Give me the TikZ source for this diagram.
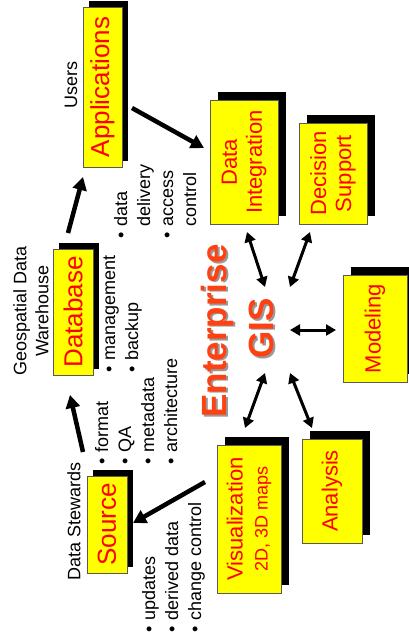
\documentclass[tikz,border=0pt]{standalone}
\usepackage{fontspec}
\setmainfont{Liberation Sans}
\usetikzlibrary{arrows.meta,shadows}
\definecolor{boxyellow}{RGB}{255,255,0}
\definecolor{egis}{RGB}{255,64,16}
\begin{document}
\begin{tikzpicture}[x=1pt,y=-1pt,
  box/.style={draw=black!65, line width=0.8pt, fill=boxyellow, inner sep=0pt},
  shadowS/.style={drop shadow={shadow xshift=6pt,shadow yshift=6pt,fill=black,opacity=1}},
  shadowL/.style={drop shadow={shadow xshift=8pt,shadow yshift=8pt,fill=black,opacity=1}},
  title/.style={rotate=90, text=red, inner sep=0pt, font=\fontsize{26}{30}\selectfont},
  subtitle/.style={rotate=90, text=red, inner sep=0pt, align=center, font=\fontsize{22}{25}\selectfont},
  role/.style={rotate=90, inner sep=0pt, align=center, font=\fontsize{18}{22}\selectfont},
  bullets/.style={rotate=90, inner sep=0pt, anchor=north west, font=\fontsize{18}{23}\selectfont},
  flow/.style={line width=4.5pt, -{Triangle[length=13pt,width=14pt]}},
  link/.style={line width=3pt, {Triangle[length=10pt,width=11pt]}-{Triangle[length=10pt,width=11pt]}},
  gis/.style={rotate=90, inner sep=0pt, anchor=mid, font=\fontsize{35}{40}\selectfont\bfseries}
]
\useasboundingbox (0,0) rectangle (409,642);

% ---- boxes ----
\node[box, shadowS, minimum width=39, minimum height=160] (app) at (102.5,87) {};
\node[box, shadowS, minimum width=40, minimum height=126] (db)  at (73,312) {};
\node[box, shadowS, minimum width=40, minimum height=97]  (src) at (107,524.5) {};
\node[box, shadowL, minimum width=68, minimum height=124] (di)  at (244,162) {};
\node[box, shadowL, minimum width=68, minimum height=101] (ds)  at (333,173.5) {};
\node[box, shadowL, minimum width=64, minimum height=107] (mod) at (375,328.5) {};
\node[box, shadowL, minimum width=64, minimum height=148] (vis) at (249,519) {};
\node[box, shadowL, minimum width=60, minimum height=104] (ana) at (332,491) {};

% ---- box texts ----
\node[title] (appT) at (app.center) {Applications};
\node[title] (dbT)  at (db.center) {Database};
\node[title] (srcT) at (src.center) {Source};
\node[subtitle] (diT)  at (di.center) {Data\\Integration};
\node[subtitle] (dsT)  at (ds.center) {Decision\\Support};
\node[subtitle] (modT) at (mod.center) {Modeling};
\node[subtitle] (anaT) at (ana.center) {Analysis};
\node[subtitle] (visT) at (vis.center) {Visualization\\{\fontsize{18}{22}\selectfont 2D, 3D maps}};

% ---- roles ----
\node[role] (users) at (71,85) {Users};
\node[role] (gdw) at (31,311) {Geospatial Data\\Warehouse};
\node[role] (stew) at (74,521) {Data Stewards};

% ---- bullet lists ----
\node[bullets] (l1) at (110.7,239) {\begin{tabular}{@{}l@{\hspace{6pt}}l@{}}
\textbullet & data\\ & delivery\\ \textbullet & access\\ & control\end{tabular}};
\node[bullets] (l2) at (98.7,373) {\begin{tabular}{@{}l@{\hspace{6pt}}l@{}}
\textbullet & management\\ \textbullet & backup\end{tabular}};
\node[bullets] (l3) at (91.7,465) {\begin{tabular}{@{}l@{\hspace{6pt}}l@{}}
\textbullet & format\\ \textbullet & QA\\ \textbullet & metadata\\ \textbullet & architecture\end{tabular}};
\node[bullets] (l4) at (138.7,633) {\begin{tabular}{@{}l@{\hspace{6pt}}l@{}}
\textbullet & updates\\ \textbullet & derived data\\ \textbullet & change control\end{tabular}};

% ---- Enterprise GIS ----
\node[gis, text=black!40] (entS) at (225.8,332.5) {Enterprise};
\node[gis, text=black!40] (gisS) at (272.8,330) {GIS};
\node[gis, text=egis] (ent) at (224,331) {Enterprise};
\node[gis, text=egis] (gis) at (271,328.5) {GIS};

% ---- arrow end points ----
\coordinate (a1) at (132,108);  \coordinate (a2) at (204,148);
\coordinate (b1) at (68,233);   \coordinate (b2) at (83,177);
\coordinate (c1) at (83,452);   \coordinate (c2) at (70,395);
\coordinate (d1) at (205,482);  \coordinate (d2) at (133,523);
\coordinate (e1) at (265,287);  \coordinate (e2) at (247,232);
\coordinate (f1) at (290,287);  \coordinate (f2) at (310,232);
\coordinate (g1) at (290,330);  \coordinate (g2) at (336,330);
\coordinate (h1) at (265,373);  \coordinate (h2) at (245,428);
\coordinate (k1) at (290,373);  \coordinate (k2) at (312,428);

% ---- flows ----
\draw[flow] (a1) -- (a2);
\draw[flow] (b1) -- (b2);
\draw[flow] (c1) -- (c2);
\draw[flow] (d1) -- (d2);

% ---- links around the hub ----
\draw[link] (e1) -- (e2);
\draw[link] (f1) -- (f2);
\draw[link] (g1) -- (g2);
\draw[link] (h1) -- (h2);
\draw[link] (k1) -- (k2);
\end{tikzpicture}
\end{document}
